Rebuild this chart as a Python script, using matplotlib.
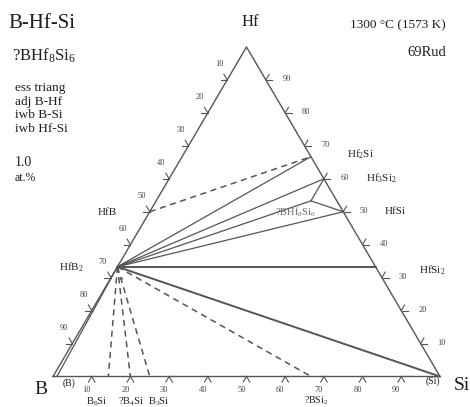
import numpy as np
import matplotlib
matplotlib.use("Agg")
import matplotlib.pyplot as plt

plt.rcParams['font.family'] = ['Liberation Serif', 'DejaVu Serif']
plt.rcParams['mathtext.fontset'] = 'custom'
plt.rcParams['mathtext.rm'] = 'Liberation Serif'
plt.rcParams['mathtext.it'] = 'Liberation Serif'
plt.rcParams['mathtext.bf'] = 'Liberation Serif:bold'

W, H = 470, 407

# phases, composition in at.% (B, Hf, Si)
phase_names = ['HfB2', 'HfB', 'Hf2Si', 'Hf3Si2', 'HfSi', 'HfSi2', 'BHf8Si6',
               'B6Si', 'B4Si', 'B3Si', 'BSi2', 'Si', 'Bss']
phase_B = [66.7, 50.0, 0.0, 0.0, 0.0, 0.0, 6.7, 85.7, 80.0, 75.0, 33.3, 0.0, 99.0]
phase_Hf = [33.3, 50.0, 66.7, 60.0, 50.0, 33.3, 53.3, 0.0, 0.0, 0.0, 0.0, 0.0, 0.0]
phase_Si = [0.0, 0.0, 33.3, 40.0, 50.0, 66.7, 40.0, 14.3, 20.0, 25.0, 66.7, 100.0, 1.0]

# tie lines between phases
solid_ties = [('HfB2', 'Hf2Si'), ('HfB2', 'Hf3Si2'), ('HfB2', 'BHf8Si6'),
              ('HfB2', 'HfSi'), ('HfB2', 'HfSi2'), ('HfB2', 'Si'),
              ('Hf3Si2', 'BHf8Si6'), ('BHf8Si6', 'HfSi'), ('HfB2', 'Bss')]
dashed_ties = [('HfB', 'Hf2Si'), ('HfB2', 'B6Si'), ('HfB2', 'B4Si'),
               ('HfB2', 'B3Si'), ('HfB2', 'BSi2')]

# phase labels
phase_labels = {'Hf2Si': r'Hf$_2$Si', 'Hf3Si2': r'Hf$_3$Si$_2$', 'HfSi': 'HfSi',
                'HfSi2': r'HfSi$_2$', 'HfB': 'HfB', 'HfB2': r'HfB$_2$',
                'B6Si': r'B$_6$Si', 'B4Si': r'?B$_4$Si', 'B3Si': r'B$_3$Si',
                'BSi2': r'?BSi$_2$'}
label_offsets = {'Hf2Si': (36, 2, 'left', 8), 'Hf3Si2': (42, 1, 'left', 8),
                 'HfSi': (41, 0, 'left', 8), 'HfSi2': (43, -3, 'left', 8),
                 'HfB': (-33, -1, 'right', 8), 'HfB2': (-34, 0, 'right', 8),
                 'B6Si': (-12, -25, 'center', 7.5), 'B4Si': (1, -25, 'center', 7.5),
                 'B3Si': (9, -25, 'center', 7.5), 'BSi2': (5, -24, 'center', 7)}

tick_values = [10, 20, 30, 40, 50, 60, 70, 80, 90]

LINE = '#555555'
TXT = '#1e1e1e'


def xy(b, hf, si):
    t = b + hf + si
    return (si + hf / 2) / t, (hf * np.sqrt(3) / 2) / t


pts = {n: xy(b, hf, si) for n, b, hf, si in zip(phase_names, phase_B, phase_Hf, phase_Si)}

fig = plt.figure(figsize=(W / 100, H / 100), dpi=100)
ax = fig.add_axes([53 / W, 30.5 / H, 387 / W, 329.5 / H])
ax.set_xlim(0, 1)
ax.set_ylim(0, np.sqrt(3) / 2)
ax.axis('off')

# triangle
tri = [xy(100, 0, 0), xy(0, 0, 100), xy(0, 100, 0), xy(100, 0, 0)]
ax.plot([p[0] for p in tri], [p[1] for p in tri], color=LINE, lw=1.0, clip_on=False)

# chevron ticks, legs along the grid directions outside the triangle
L = 0.017
for v in tick_values:
    # bottom (Si)
    p = xy(100 - v, 0, v)
    for a in (240, 300):
        ax.plot([p[0], p[0] + L * np.cos(np.radians(a))],
                [p[1], p[1] + L * np.sin(np.radians(a))], color=LINE, lw=0.8, clip_on=False)
    ax.annotate(str(v), p, xytext=(-5, -14), textcoords='offset pixels',
                ha='center', va='center', fontsize=6, color='#444')
    # left (B)
    p = xy(v, 100 - v, 0)
    for a in (180, 120):
        ax.plot([p[0], p[0] + L * np.cos(np.radians(a))],
                [p[1], p[1] + L * np.sin(np.radians(a))], color=LINE, lw=0.8, clip_on=False)
    ax.annotate(str(v), p, xytext=(-8, 16), textcoords='offset pixels',
                ha='center', va='center', fontsize=6, color='#444')
    # right (Hf)
    p = xy(0, v, 100 - v)
    for a in (0, 60):
        ax.plot([p[0], p[0] + L * np.cos(np.radians(a))],
                [p[1], p[1] + L * np.sin(np.radians(a))], color=LINE, lw=0.8, clip_on=False)
    ax.annotate(str(v), p, xytext=(21, 1), textcoords='offset pixels',
                ha='center', va='center', fontsize=6, color='#444')

# tie lines
for a, b in solid_ties:
    lw = 1.4 if b in ('HfSi2', 'Si') else 0.9
    ax.plot([pts[a][0], pts[b][0]], [pts[a][1], pts[b][1]], color=LINE, lw=lw,
            solid_capstyle='round', clip_on=False)
for a, b in dashed_ties:
    ax.plot([pts[a][0], pts[b][0]], [pts[a][1], pts[b][1]], color=LINE, lw=1.1,
            dashes=(4, 3), clip_on=False)

# phase labels
for n, txt in phase_labels.items():
    dx, dy, ha, fs = label_offsets[n]
    ax.annotate(txt, pts[n], xytext=(dx, dy), textcoords='offset pixels',
                ha=ha, va='center', fontsize=fs, color=TXT)
ax.annotate(r'?BHf$_8$Si$_6$', pts['BHf8Si6'], xytext=(-36, -11), textcoords='offset pixels',
            ha='left', va='center', fontsize=7.5, color='#6a6a6a')
ax.annotate('m', pts['HfB2'], xytext=(3, -12), textcoords='offset pixels',
            ha='center', va='center', fontsize=5, color='#555')


def ftext(x, y, s, **kw):
    fig.text(x / W, 1 - y / H, s, **kw)


# corners
ftext(250, 22, 'Hf', ha='center', va='center', fontsize=12, color=TXT)
ftext(41, 389, 'B', ha='center', va='center', fontsize=14, color=TXT)
ftext(69, 383, '(B)', ha='center', va='center', fontsize=7, color=TXT)
ftext(462, 385, 'Si', ha='center', va='center', fontsize=14, color=TXT)
ftext(433, 381, '(Si)', ha='center', va='center', fontsize=7, color=TXT)

# header and notes
ftext(8, 23, 'B-Hf-Si', ha='left', va='center', fontsize=15, color=TXT)
ftext(12, 56, r'?BHf$_8$Si$_6$', ha='left', va='center', fontsize=12, color=TXT)
for i, s in enumerate(['ess triang', 'adj B-Hf', 'iwb B-Si', 'iwb Hf-Si']):
    ftext(15, 88 + i * 13.7, s, ha='left', va='center', fontsize=9.5, color=TXT)
ftext(15, 163, '1.0', ha='left', va='center', fontsize=10, color=TXT)
ftext(15, 178, 'at.%', ha='left', va='center', fontsize=8.5, color=TXT)
ftext(446, 25, '1300 °C (1573 K)', ha='right', va='center', fontsize=9.5, color=TXT)
ftext(446, 52, '69Rud', ha='right', va='center', fontsize=10.5, color=TXT)

fig.savefig('out.png', dpi=100, facecolor='white')
